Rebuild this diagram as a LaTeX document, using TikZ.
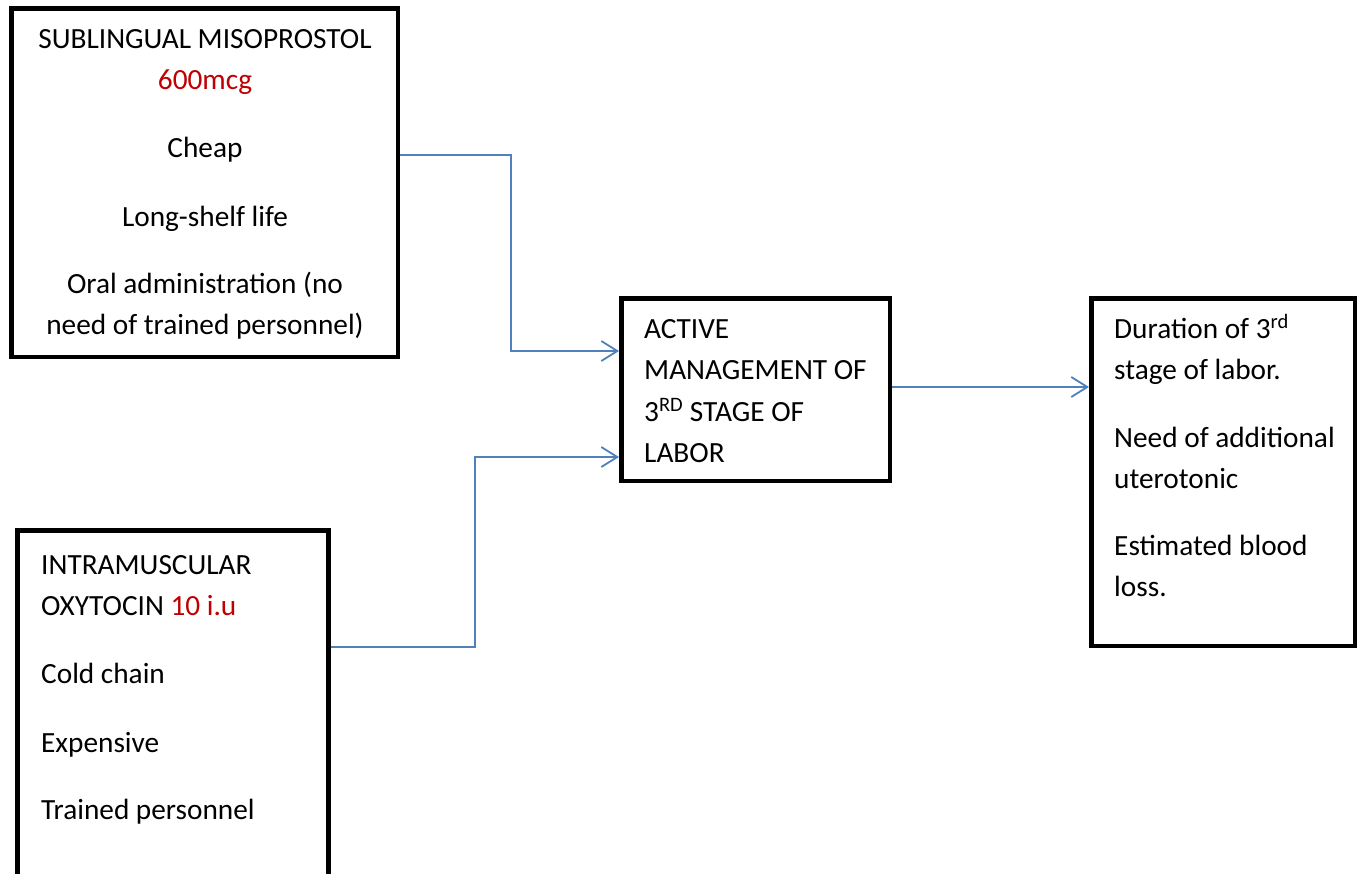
\documentclass[tikz,border=0pt]{standalone}
\usepackage{fontspec}
\setmainfont{Carlito}
\usetikzlibrary{arrows.meta}
\definecolor{connblue}{HTML}{4F81BD}
\definecolor{dosered}{HTML}{C00000}
\tikzset{
  box/.style={draw=black, line width=4.5pt, fill=white, rectangle, inner sep=0pt},
  conn/.style={draw=connblue, line width=1.8pt, -{Straight Barb[length=16pt,width=20pt,line width=1.8pt]}},
  plain/.style={draw=connblue, line width=1.8pt},
  txt/.style={font=\fontsize{29.3}{41}\selectfont, inner sep=0pt, anchor=base},
  ltxt/.style={txt, anchor=base west},
}
\begin{document}
\begin{tikzpicture}[x=1pt,y=-1pt]
\clip (0,0) rectangle (1362,873);
\fill[white] (0,0) rectangle (1362,873);

% boxes
\node[box, minimum width=386.5pt, minimum height=348.5pt] (miso) at (204.5,182.5) {};
\node[box, minimum width=311pt, minimum height=369.5pt] (oxy) at (173,715.25) {};
\node[box, minimum width=268.5pt, minimum height=182.5pt] (amtsl) at (755.5,389.5) {};
\node[box, minimum width=263.5pt, minimum height=347.5pt] (outc) at (1223,472) {};

% connectors
\draw[conn] (miso.east |- 0,155) -| (511,351) -- (amtsl.west |- 0,351);
\draw[conn] (oxy.east |- 0,647) -| (475,457) -- (amtsl.west |- 0,457);
\draw[conn] (amtsl.east |- 0,387) -- (outc.west |- 0,387);

% top box text
\node[txt] (m1) at (205,48) {SUBLINGUAL MISOPROSTOL};
\node[txt, text=dosered] (m2) at (205,89) {600mcg};
\node[txt] (m3) at (205,157) {Cheap};
\node[txt] (m4) at (205,226) {Long-shelf life};
\node[txt] (m5) at (205,293) {Oral administration (no};
\node[txt] (m6) at (205,334) {need of trained personnel)};

% middle box text
\node[ltxt] (a1) at (644,338) {ACTIVE};
\node[ltxt] (a2) at (644,379) {MANAGEMENT OF};
\node[ltxt] (a3) at (644,421) {3\textsuperscript{RD} STAGE OF};
\node[ltxt] (a4) at (644,462) {LABOR};

% right box text
\node[ltxt] (o1) at (1114,338) {Duration of 3\textsuperscript{rd}};
\node[ltxt] (o2) at (1114,379) {stage of labor.};
\node[ltxt] (o3) at (1114,447) {Need of additional};
\node[ltxt] (o4) at (1114,488) {uterotonic};
\node[ltxt] (o5) at (1114,555) {Estimated blood};
\node[ltxt] (o6) at (1114,596) {loss.};

% bottom box text
\node[ltxt] (x1) at (41,574) {INTRAMUSCULAR};
\node[ltxt] (x2) at (41,615) {OXYTOCIN {\color{dosered}10 i.u}};
\node[ltxt] (x3) at (41,683) {Cold chain};
\node[ltxt] (x4) at (41,752) {Expensive};
\node[ltxt] (x5) at (41,819) {Trained personnel};
\end{tikzpicture}
\end{document}
